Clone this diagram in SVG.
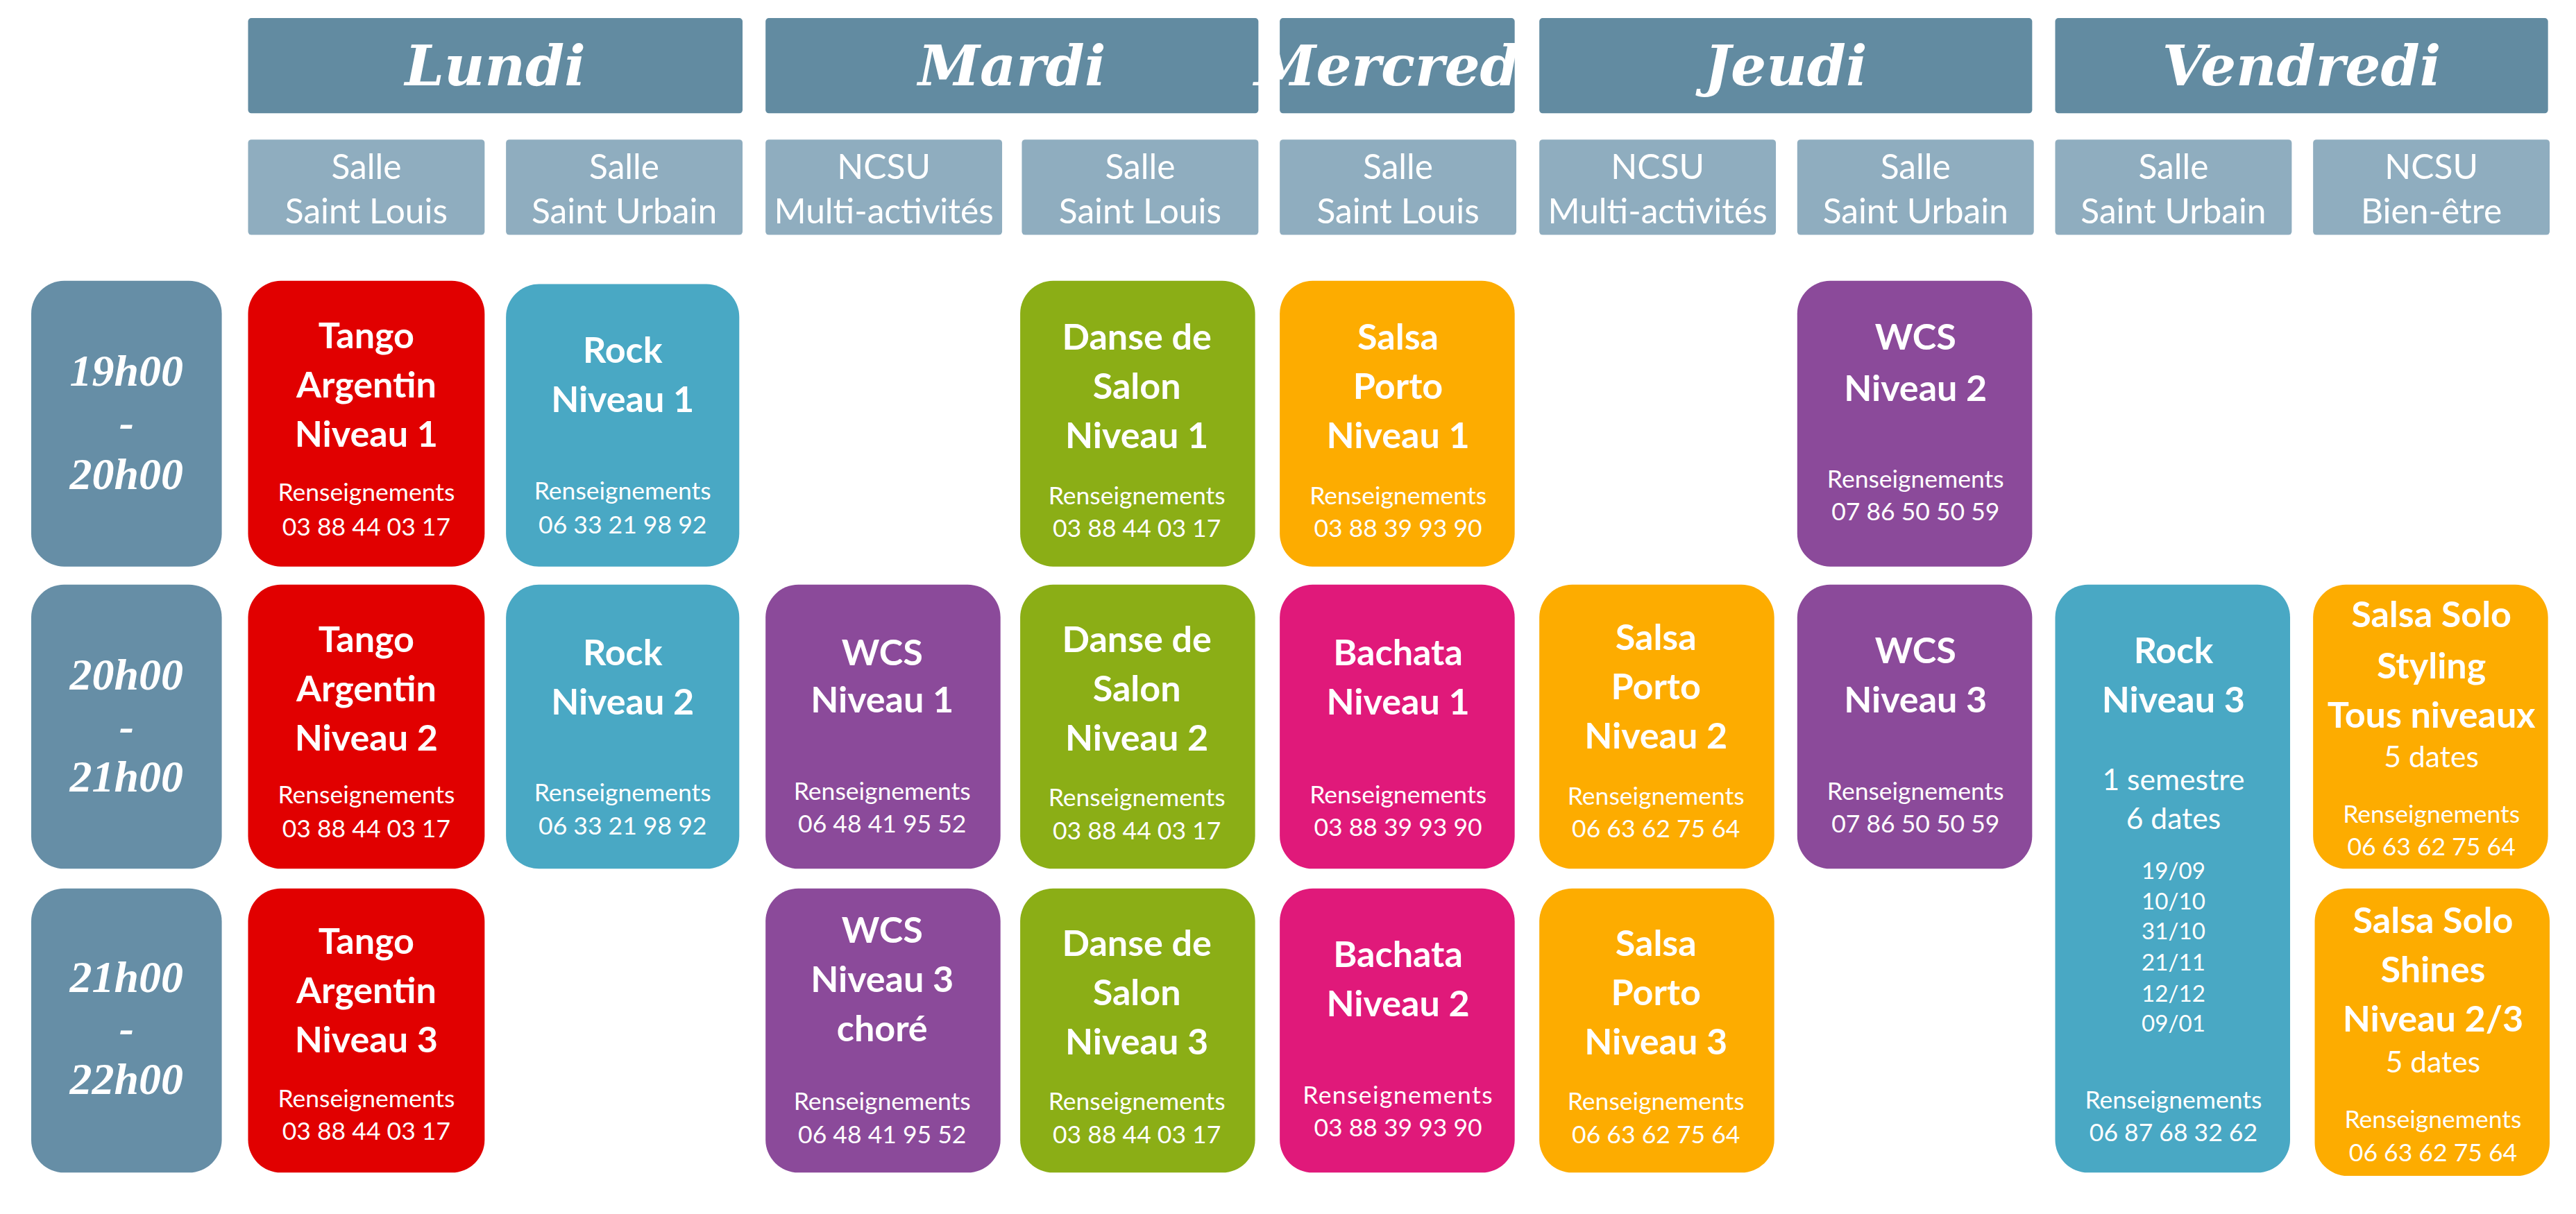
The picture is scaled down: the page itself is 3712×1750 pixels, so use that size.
<svg xmlns="http://www.w3.org/2000/svg" width="3712" height="1750" viewBox="0 0 3712 1750">
<style>
.day{fill:#628BA1}.room{fill:#8FADBF}.time{fill:#668EA6}
.red{fill:#E10000}.blue{fill:#49A8C4}.green{fill:#8BAE16}.orange{fill:#FDAC00}.purple{fill:#8B4A9A}.pink{fill:#E0197A}
text{fill:#fff;font-family:Lato,"Open Sans",sans-serif;text-anchor:middle}
.dt{font-size:34px;font-weight:bold;font-style:italic;font-family:"DejaVu Serif",serif}
.rt{font-size:21px}
.tt{font-size:27px;font-weight:bold;font-style:italic;font-family:"Liberation Serif",serif}
.t{font-size:22px;font-weight:bold}
.r{font-size:15px}
.m{font-size:18px}
.d{font-size:14px}
</style>
<rect width="3712" height="1750" fill="#fff"/>
<g transform="scale(2.3673)">
<g id="headers">
<rect class="day" x="151" y="11" width="301" height="58" rx="2"/><text class="dt" x="301.5" y="52">Lundi</text>
<rect class="day" x="466" y="11" width="300" height="58" rx="2"/><text class="dt" x="616" y="52">Mardi</text>
<rect class="day" x="779" y="11" width="143" height="58" rx="2"/><text class="dt" x="850.5" y="52" font-size="31">Mercredi</text>
<rect class="day" x="937" y="11" width="300" height="58" rx="2"/><text class="dt" x="1087" y="52">Jeudi</text>
<rect class="day" x="1251" y="11" width="300" height="58" rx="2"/><text class="dt" x="1401" y="52">Vendredi</text>
<rect class="room" x="151" y="85" width="144" height="58" rx="2"/><text class="rt" x="223" y="109">Salle</text><text class="rt" x="223" y="136">Saint Louis</text>
<rect class="room" x="308" y="85" width="144" height="58" rx="2"/><text class="rt" x="380" y="109">Salle</text><text class="rt" x="380" y="136">Saint Urbain</text>
<rect class="room" x="466" y="85" width="144" height="58" rx="2"/><text class="rt" x="538" y="109">NCSU</text><text class="rt" x="538" y="136" font-size="19">Multi-activités</text>
<rect class="room" x="622" y="85" width="144" height="58" rx="2"/><text class="rt" x="694" y="109">Salle</text><text class="rt" x="694" y="136">Saint Louis</text>
<rect class="room" x="779" y="85" width="144" height="58" rx="2"/><text class="rt" x="851" y="109">Salle</text><text class="rt" x="851" y="136">Saint Louis</text>
<rect class="room" x="937" y="85" width="144" height="58" rx="2"/><text class="rt" x="1009" y="109">NCSU</text><text class="rt" x="1009" y="136" font-size="19">Multi-activités</text>
<rect class="room" x="1094" y="85" width="144" height="58" rx="2"/><text class="rt" x="1166" y="109">Salle</text><text class="rt" x="1166" y="136">Saint Urbain</text>
<rect class="room" x="1251" y="85" width="144" height="58" rx="2"/><text class="rt" x="1323" y="109">Salle</text><text class="rt" x="1323" y="136">Saint Urbain</text>
<rect class="room" x="1408" y="85" width="144" height="58" rx="2"/><text class="rt" x="1480" y="109">NCSU</text><text class="rt" x="1480" y="136">Bien-être</text>
</g>
<g id="times">
<rect class="time" x="19" y="171" width="116" height="174" rx="20"/><text class="tt" x="77" y="235">19h00</text><text class="tt" x="77" y="266">-</text><text class="tt" x="77" y="298">20h00</text>
<rect class="time" x="19" y="356" width="116" height="173" rx="20"/><text class="tt" x="77" y="420">20h00</text><text class="tt" x="77" y="451">-</text><text class="tt" x="77" y="482">21h00</text>
<rect class="time" x="19" y="541" width="116" height="173" rx="20"/><text class="tt" x="77" y="604">21h00</text><text class="tt" x="77" y="635">-</text><text class="tt" x="77" y="666">22h00</text>
</g>
<g id="tango1"><rect class="red" x="151" y="171" width="144" height="174" rx="20"/><text class="t" x="223" y="212">Tango</text><text class="t" x="223" y="242">Argentin</text><text class="t" x="223" y="272">Niveau 1</text><text class="r" x="223" y="305">Renseignements</text><text class="r" x="223" y="326">03 88 44 03 17</text></g>
<g id="rock1"><rect class="blue" x="308" y="173" width="142" height="172" rx="20"/><text class="t" x="379" y="221">Rock</text><text class="t" x="379" y="251">Niveau 1</text><text class="r" x="379" y="304">Renseignements</text><text class="r" x="379" y="325">06 33 21 98 92</text></g>
<g id="danse1"><rect class="green" x="621" y="171" width="143" height="174" rx="20"/><text class="t" x="692" y="213">Danse de</text><text class="t" x="692" y="243">Salon</text><text class="t" x="692" y="273">Niveau 1</text><text class="r" x="692" y="307">Renseignements</text><text class="r" x="692" y="327">03 88 44 03 17</text></g>
<g id="salsa1"><rect class="orange" x="779" y="171" width="143" height="174" rx="20"/><text class="t" x="851" y="213">Salsa</text><text class="t" x="851" y="243">Porto</text><text class="t" x="851" y="273">Niveau 1</text><text class="r" x="851" y="307">Renseignements</text><text class="r" x="851" y="327">03 88 39 93 90</text></g>
<g id="wcs2"><rect class="purple" x="1094" y="171" width="143" height="174" rx="20"/><text class="t" x="1166" y="213">WCS</text><text class="t" x="1166" y="244">Niveau 2</text><text class="r" x="1166" y="297">Renseignements</text><text class="r" x="1166" y="317">07 86 50 50 59</text></g>
<g id="tango2"><rect class="red" x="151" y="356" width="144" height="173" rx="20"/><text class="t" x="223" y="397">Tango</text><text class="t" x="223" y="427">Argentin</text><text class="t" x="223" y="457">Niveau 2</text><text class="r" x="223" y="489">Renseignements</text><text class="r" x="223" y="510">03 88 44 03 17</text></g>
<g id="rock2"><rect class="blue" x="308" y="356" width="142" height="173" rx="20"/><text class="t" x="379" y="405">Rock</text><text class="t" x="379" y="435">Niveau 2</text><text class="r" x="379" y="488">Renseignements</text><text class="r" x="379" y="508">06 33 21 98 92</text></g>
<g id="wcs1"><rect class="purple" x="466" y="356" width="143" height="173" rx="20"/><text class="t" x="537" y="405">WCS</text><text class="t" x="537" y="434">Niveau 1</text><text class="r" x="537" y="487">Renseignements</text><text class="r" x="537" y="507">06 48 41 95 52</text></g>
<g id="danse2"><rect class="green" x="621" y="356" width="143" height="173" rx="20"/><text class="t" x="692" y="397">Danse de</text><text class="t" x="692" y="427">Salon</text><text class="t" x="692" y="457">Niveau 2</text><text class="r" x="692" y="491">Renseignements</text><text class="r" x="692" y="511">03 88 44 03 17</text></g>
<g id="bachata1"><rect class="pink" x="779" y="356" width="143" height="173" rx="20"/><text class="t" x="851" y="405">Bachata</text><text class="t" x="851" y="435">Niveau 1</text><text class="r" x="851" y="489">Renseignements</text><text class="r" x="851" y="509">03 88 39 93 90</text></g>
<g id="salsa2"><rect class="orange" x="937" y="356" width="143" height="173" rx="20"/><text class="t" x="1008" y="396">Salsa</text><text class="t" x="1008" y="426">Porto</text><text class="t" x="1008" y="456">Niveau 2</text><text class="r" x="1008" y="490">Renseignements</text><text class="r" x="1008" y="510">06 63 62 75 64</text></g>
<g id="wcs3"><rect class="purple" x="1094" y="356" width="143" height="173" rx="20"/><text class="t" x="1166" y="404">WCS</text><text class="t" x="1166" y="434">Niveau 3</text><text class="r" x="1166" y="487">Renseignements</text><text class="r" x="1166" y="507">07 86 50 50 59</text></g>
<g id="rock3"><rect class="blue" x="1251" y="356" width="143" height="358" rx="20"/><text class="t" x="1323" y="404">Rock</text><text class="t" x="1323" y="434">Niveau 3</text><text class="m" x="1323" y="481">1 semestre</text><text class="m" x="1323" y="505">6 dates</text>
<text class="d" x="1323" y="535">19/09</text><text class="d" x="1323" y="554">10/10</text><text class="d" x="1323" y="572">31/10</text><text class="d" x="1323" y="591">21/11</text><text class="d" x="1323" y="610">12/12</text><text class="d" x="1323" y="628">09/01</text>
<text class="r" x="1323" y="675">Renseignements</text><text class="r" x="1323" y="695">06 87 68 32 62</text></g>
<g id="salsasolo1"><rect class="orange" x="1408" y="356" width="143" height="173" rx="20"/><text class="t" x="1480" y="382">Salsa Solo</text><text class="t" x="1480" y="413">Styling</text><text class="t" x="1480" y="443">Tous niveaux</text><text class="m" x="1480" y="467">5 dates</text><text class="r" x="1480" y="501">Renseignements</text><text class="r" x="1480" y="521">06 63 62 75 64</text></g>
<g id="tango3"><rect class="red" x="151" y="541" width="144" height="173" rx="20"/><text class="t" x="223" y="581">Tango</text><text class="t" x="223" y="611">Argentin</text><text class="t" x="223" y="641">Niveau 3</text><text class="r" x="223" y="674">Renseignements</text><text class="r" x="223" y="694">03 88 44 03 17</text></g>
<g id="wcs3chore"><rect class="purple" x="466" y="541" width="143" height="173" rx="20"/><text class="t" x="537" y="574">WCS</text><text class="t" x="537" y="604">Niveau 3</text><text class="t" x="537" y="634">choré</text><text class="r" x="537" y="676">Renseignements</text><text class="r" x="537" y="696">06 48 41 95 52</text></g>
<g id="danse3"><rect class="green" x="621" y="541" width="143" height="173" rx="20"/><text class="t" x="692" y="582">Danse de</text><text class="t" x="692" y="612">Salon</text><text class="t" x="692" y="642">Niveau 3</text><text class="r" x="692" y="676">Renseignements</text><text class="r" x="692" y="696">03 88 44 03 17</text></g>
<g id="bachata2"><rect class="pink" x="779" y="541" width="143" height="173" rx="20"/><text class="t" x="851" y="589">Bachata</text><text class="t" x="851" y="619">Niveau 2</text><text class="r" x="851" y="672" letter-spacing="0.6">Renseignements</text><text class="r" x="851" y="692">03 88 39 93 90</text></g>
<g id="salsa3"><rect class="orange" x="937" y="541" width="143" height="173" rx="20"/><text class="t" x="1008" y="582">Salsa</text><text class="t" x="1008" y="612">Porto</text><text class="t" x="1008" y="642">Niveau 3</text><text class="r" x="1008" y="676">Renseignements</text><text class="r" x="1008" y="696">06 63 62 75 64</text></g>
<g id="salsasolo2"><rect class="orange" x="1409" y="541" width="143" height="175" rx="20"/><text class="t" x="1481" y="568">Salsa Solo</text><text class="t" x="1481" y="598">Shines</text><text class="t" x="1481" y="628">Niveau 2/3</text><text class="m" x="1481" y="653">5 dates</text><text class="r" x="1481" y="687">Renseignements</text><text class="r" x="1481" y="707">06 63 62 75 64</text></g>
<g id="connectors"/>
</g>
</svg>
